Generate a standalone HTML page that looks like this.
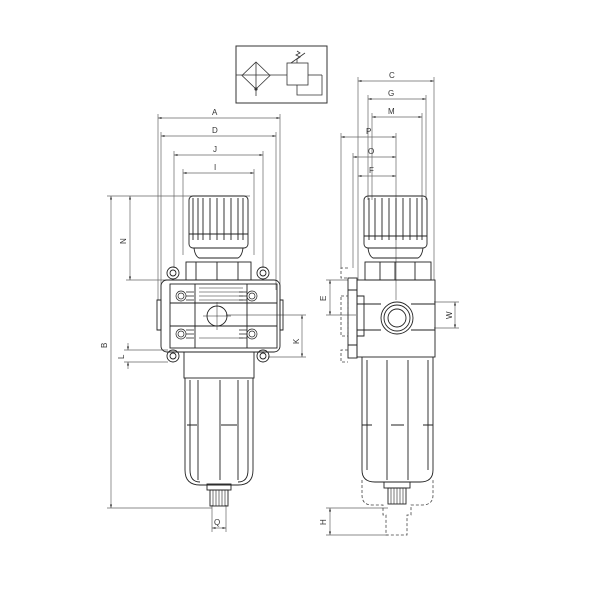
<!DOCTYPE html>
<html><head><style>html,body{margin:0;padding:0;background:#fff}svg{display:block}</style></head>
<body>
<svg width="600" height="600" viewBox="0 0 600 600" xmlns="http://www.w3.org/2000/svg" font-family="Liberation Sans, sans-serif" font-size="8" fill="none" stroke="#333" stroke-width="0.8">
<defs>
<marker id="ar" markerWidth="6" markerHeight="6" refX="5" refY="3" orient="auto-start-reverse"><path d="M0,1.5L5,3L0,4.5" fill="#333" stroke="none"/></marker>
</defs>
<!-- symbol -->
<rect x="236" y="46" width="91" height="57" stroke-width="1"/>
<line x1="236" y1="75" x2="287" y2="75"/><line x1="308" y1="75" x2="322" y2="75"/>
<path d="M256,62L270,75.5L256,89L242,75.5Z"/><line x1="256" y1="62" x2="256" y2="96"/><circle cx="256" cy="89" r="1.2" fill="#333"/>
<rect x="287" y="63" width="21" height="22"/>
<path d="M322,75V95H297V85"/>
<path d="M297,63V59l3,-2-4,-2 4,-2-3,-2M291,63l14,-10"/>
<g stroke="#666" stroke-width="0.7">
<!-- left dims -->
<line x1="158" y1="118" x2="280" y2="118" marker-start="url(#ar)" marker-end="url(#ar)"/>
<line x1="161" y1="136" x2="276" y2="136" marker-start="url(#ar)" marker-end="url(#ar)"/>
<line x1="174" y1="155" x2="263" y2="155" marker-start="url(#ar)" marker-end="url(#ar)"/>
<line x1="183" y1="173" x2="254" y2="173" marker-start="url(#ar)" marker-end="url(#ar)"/>
<path d="M158,114V300M280,114V300M161,132V290M276,132V290M174,151V268M263,151V268M183,169V255M254,169V255"/>
<line x1="111" y1="196" x2="111" y2="508" marker-start="url(#ar)" marker-end="url(#ar)"/>
<path d="M107,196H250M107,508H212"/>
<line x1="130" y1="196" x2="130" y2="280" marker-start="url(#ar)" marker-end="url(#ar)"/>
<path d="M126,280H172"/>
<line x1="302" y1="315" x2="302" y2="357" marker-start="url(#ar)" marker-end="url(#ar)"/>
<path d="M226,315H306M268,357H306"/>
<line x1="128" y1="343" x2="128" y2="350" marker-end="url(#ar)"/><line x1="128" y1="369" x2="128" y2="362" marker-end="url(#ar)"/>
<path d="M124,350H168M124,362H168"/>
<line x1="212" y1="528" x2="226" y2="528" marker-start="url(#ar)" marker-end="url(#ar)"/>
<path d="M212,505V532M226,505V532"/>
<!-- right dims -->
<line x1="358" y1="81" x2="434" y2="81" marker-start="url(#ar)" marker-end="url(#ar)"/>
<line x1="368" y1="99" x2="426" y2="99" marker-start="url(#ar)" marker-end="url(#ar)"/>
<line x1="372" y1="117" x2="422" y2="117" marker-start="url(#ar)" marker-end="url(#ar)"/>
<line x1="341" y1="137" x2="396" y2="137" marker-start="url(#ar)" marker-end="url(#ar)"/>
<line x1="353" y1="157" x2="396" y2="157" marker-start="url(#ar)" marker-end="url(#ar)"/>
<line x1="358" y1="176" x2="396" y2="176" marker-start="url(#ar)" marker-end="url(#ar)"/>
<path d="M358,77V280M434,77V280M368,95V200M426,95V200M372,113V200M422,113V200M341,133V268M353,153V268M396,133V300"/>
<line x1="455" y1="302" x2="455" y2="328" marker-start="url(#ar)" marker-end="url(#ar)"/>
<path d="M434,302H459M434,328H459"/>
<line x1="330" y1="280" x2="330" y2="315" marker-start="url(#ar)" marker-end="url(#ar)"/>
<path d="M326,280H348M326,315H356"/>
<line x1="330" y1="508" x2="330" y2="535" marker-start="url(#ar)" marker-end="url(#ar)"/>
<path d="M326,508H388M326,535H388"/>
</g>
<g fill="#333" stroke="none" font-size="8">
<text x="212" y="115">A</text><text x="212" y="133">D</text><text x="213" y="152">J</text><text x="214" y="170">I</text>
<text x="389" y="78">C</text><text x="388" y="96">G</text><text x="388" y="114">M</text>
<text x="366" y="134">P</text><text x="368" y="154">O</text><text x="369" y="173">F</text>
<text x="214" y="525">Q</text>
<text transform="translate(107,348) rotate(-90)">B</text>
<text transform="translate(126,244) rotate(-90)">N</text>
<text transform="translate(299,344) rotate(-90)">K</text>
<text transform="translate(124,359) rotate(-90)">L</text>
<text transform="translate(326,301) rotate(-90)">E</text>
<text transform="translate(452,319) rotate(-90)">W</text>
<text transform="translate(326,525) rotate(-90)">H</text>
</g>
<!-- LEFT VIEW -->
<g stroke="#222" stroke-width="0.9">
<rect x="189" y="196" width="59" height="52" rx="4"/>
<path d="M193,198V240M198,198V240M203,198V240M210,198V240M217,198V240M224,198V240M231,198V240M238,198V240M243,198V240M189,234H248"/>
<path d="M194,248Q195,256 199,258H238Q242,256 243,248"/>
<rect x="186" y="262" width="65" height="18"/><path d="M196,262V280M217,262V280M238,262V280"/>
<rect x="161" y="280" width="119" height="72" rx="6"/>
<rect x="170" y="284" width="107" height="64"/>
<path d="M195,284V348M247,284V348M170,303H277M170,326H277M157,300H161V330H157ZM280,300H283V330H280Z"/>
<path d="M199,288H243M199,292H243M199,296H243M199,300H243M199,338H243" stroke-width="0.6"/>
<circle cx="217" cy="316" r="10"/><path d="M203,316H231M217,302V330" stroke-width="0.5"/>
<g stroke-width="0.7">
<circle cx="181" cy="296" r="5"/><circle cx="181" cy="296" r="3"/>
<circle cx="252" cy="296" r="5"/><circle cx="252" cy="296" r="3"/>
<circle cx="181" cy="334" r="5"/><circle cx="181" cy="334" r="3"/>
<circle cx="252" cy="334" r="5"/><circle cx="252" cy="334" r="3"/>
<path d="M186,292H194M186,296H194M186,300H194M239,292H247M239,296H247M239,300H247M186,330H194M186,334H194M186,338H194M239,330H247M239,334H247M239,338H247"/>
</g>
<circle cx="173" cy="273" r="6"/><circle cx="173" cy="273" r="3"/>
<circle cx="263" cy="273" r="6"/><circle cx="263" cy="273" r="3"/>
<circle cx="173" cy="356" r="6"/><circle cx="173" cy="356" r="3"/>
<circle cx="263" cy="356" r="6"/><circle cx="263" cy="356" r="3"/>
<rect x="184" y="352" width="70" height="26"/>
<path d="M185,378V470Q185,485 200,485H238Q253,485 253,470V378"/>
<path d="M190,380V470Q190,482 200,482M248,380V470Q248,482 238,482"/>
<path d="M198,380V480M220,380V480M238,380V480M187,425H197M221,425H237"/>
<rect x="207" y="484" width="24" height="6"/>
<rect x="210" y="490" width="18" height="16"/>
<path d="M213,490V506M216,490V506M219,490V506M222,490V506M225,490V506" stroke-width="0.6"/>
</g>
<!-- RIGHT VIEW -->
<g stroke="#222" stroke-width="0.9">
<rect x="364" y="196" width="63" height="52" rx="4"/>
<path d="M369,198V240M375,198V240M382,198V240M389,198V240M396,198V240M403,198V240M410,198V240M417,198V240M422,198V240M364,236H427"/>
<path d="M368,248Q369,256 373,258H418Q422,256 423,248"/>
<rect x="365" y="262" width="66" height="18"/><path d="M380,262V280M395,262V280M415,262V280"/>
<rect x="357" y="280" width="78" height="77"/>
<path d="M357,304H381M411,304H435M357,330H381M411,330H435"/>
<rect x="348" y="278" width="9" height="80"/>
<path d="M348,290H357M348,345H357M357,296H364V336H357"/>
<circle cx="397" cy="318" r="16"/><circle cx="397" cy="318" r="13"/><circle cx="397" cy="318" r="9"/>
<path d="M362,357V470Q362,482 375,482H420Q433,482 433,470V357"/>
<path d="M367,360V470M428,360V470M387,360V480M408,360V480M362,425H372M423,425H433M391,425H404"/>
<rect x="384" y="482" width="26" height="6"/>
<rect x="388" y="488" width="18" height="16"/>
<path d="M391,488V504M394,488V504M397,488V504M400,488V504M403,488V504" stroke-width="0.6"/>
</g>
<g stroke="#444" stroke-width="0.8" stroke-dasharray="3,2">
<path d="M348,268H341V278H348M348,350H341V362H348M341,296H348V336H341Z"/>
<path d="M362,480V495Q362,505 372,505H383V515H386V535H407V515H411V505H422Q433,505 433,495V480"/>
</g>
</svg>
</body></html>
